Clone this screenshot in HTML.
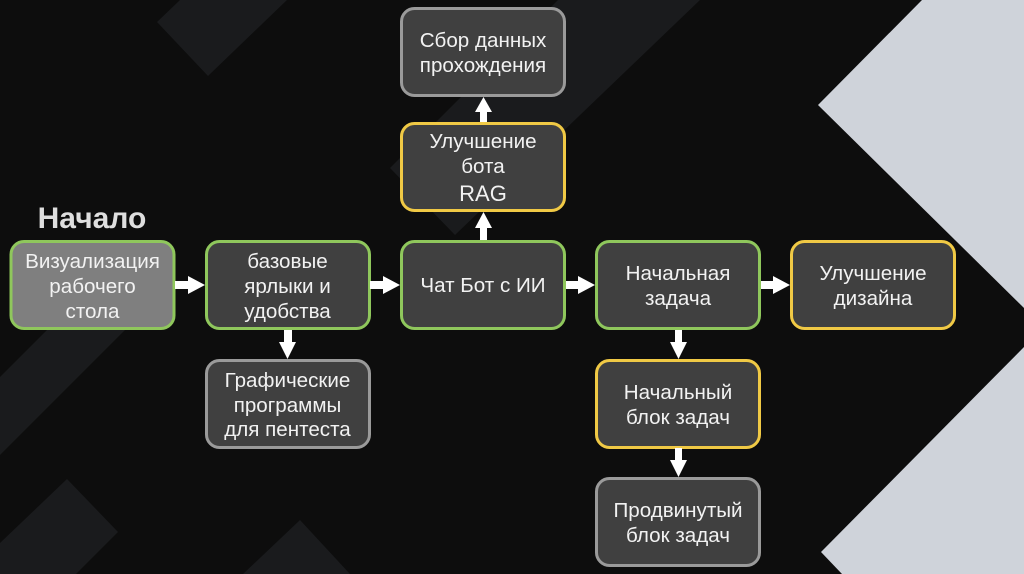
<!DOCTYPE html>
<html><head><meta charset="utf-8">
<style>
html,body{margin:0;padding:0;background:#0d0d0d}
svg{display:block}
text{font-family:"Liberation Sans","Noto Sans CJK SC",sans-serif;fill:#f2f2f2;font-size:20.6px;text-anchor:middle}
.g{fill:#404040;stroke:#8fc75c;stroke-width:3}
.y{fill:#404040;stroke:#f0c945;stroke-width:3}
.s{fill:#404040;stroke:#9a9a9a;stroke-width:3}
</style></head><body>
<svg width="1024" height="574" viewBox="0 0 1024 574" xmlns="http://www.w3.org/2000/svg">
<rect width="1024" height="574" fill="#0d0d0d"/>
<g fill="#1a1b1d">
<polygon points="157,22 180,0 287,0 208,76"/>
<polygon points="558,0 700,0 455,235 390,168"/>
<polygon points="47,330 125,330 0,455 0,377"/>
<polygon points="67,479 118,532 76,574 0,574 0,543"/>
<polygon points="300,520 350,574 243,574"/>
</g>
<g fill="#cfd3da">
<polygon points="922,0 1024,0 1024,308 818,105"/>
<polygon points="1024,347 1024,574 842,574 821,552"/>
</g>
<rect class="g" x="11" y="241.500" width="163" height="87" rx="13" style="fill:#7f7f7f"/>
<rect class="g" x="206.500" y="241.500" width="163" height="87" rx="13"/>
<rect class="g" x="401.500" y="241.500" width="163" height="87" rx="13"/>
<rect class="g" x="596.500" y="241.500" width="163" height="87" rx="13"/>
<rect class="y" x="791.500" y="241.500" width="163" height="87" rx="13"/>
<rect class="s" x="401.500" y="8.500" width="163" height="87" rx="13"/>
<rect class="y" x="401.500" y="123.500" width="163" height="87" rx="13"/>
<rect class="s" x="206.500" y="360.500" width="163" height="87" rx="13"/>
<rect class="y" x="596.500" y="360.500" width="163" height="87" rx="13"/>
<rect class="s" x="596.500" y="478.500" width="163" height="87" rx="13"/>
<g fill="#ffffff">
<polygon points="175,281 188,281 188,276 205,285 188,294 188,289 175,289"/>
<polygon points="370,281 383,281 383,276 400,285 383,294 383,289 370,289"/>
<polygon points="566,281 578,281 578,276 595,285 578,294 578,289 566,289"/>
<polygon points="761,281 773,281 773,276 790,285 773,294 773,289 761,289"/>
<polygon points="284,330 292,330 292,342 296,342 287.500,359 279,342 284,342"/>
<polygon points="675,330 682,330 682,342 687,342 678.500,359 670,342 675,342"/>
<polygon points="675,448 682,448 682,460 687,460 678.500,477 670,460 675,460"/>
<polygon points="480,240 487,240 487,228 492,228 483.500,212 475,228 480,228"/>
<polygon points="480,122 487,122 487,112 492,112 483.500,97 475,112 480,112"/>
</g>
<text x="92" y="228" style="font-size:30px;font-weight:bold;fill:#dedede">Начало</text>
<text x="92.500" y="268">Визуализация</text>
<text x="92.500" y="293">рабочего</text>
<text x="92.500" y="318">стола</text>
<text x="287.500" y="268">базовые</text>
<text x="287.500" y="293">ярлыки и</text>
<text x="287.500" y="318">удобства</text>
<text x="483" y="292">Чат Бот с ИИ</text>
<text x="678" y="280">Начальная</text>
<text x="678" y="305">задача</text>
<text x="873" y="280">Улучшение</text>
<text x="873" y="305">дизайна</text>
<text x="483" y="47">Сбор данных</text>
<text x="483" y="72">прохождения</text>
<text x="483" y="148">Улучшение</text>
<text x="483" y="173">бота</text>
<text x="483" y="201" style="font-size:22px">RAG</text>
<text x="287.500" y="387">Графические</text>
<text x="287.500" y="412">программы</text>
<text x="287.500" y="436">для пентеста</text>
<text x="678" y="399">Начальный</text>
<text x="678" y="424">блок задач</text>
<text x="678" y="517">Продвинутый</text>
<text x="678" y="542">блок задач</text>
</svg>
</body></html>
